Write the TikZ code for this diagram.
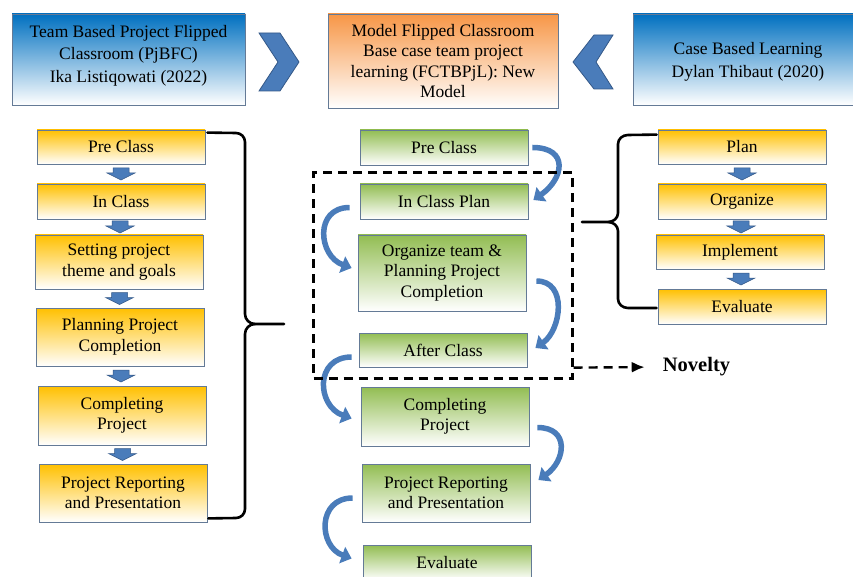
\documentclass[tikz,border=0pt]{standalone}
\usepackage{fontspec}
\setmainfont{Liberation Serif}
\usetikzlibrary{arrows.meta,calc,fit}

\definecolor{yelltop}{RGB}{255,192,0}
\definecolor{greentop}{RGB}{146,189,82}
\definecolor{orangetop}{RGB}{247,150,70}
\definecolor{bluetop}{RGB}{0,112,192}
\definecolor{edge}{RGB}{100,122,150}
\definecolor{arrblue}{RGB}{74,124,186}
\definecolor{arrline}{RGB}{52,88,135}

\newcommand{\stepdown}[2]{%
  \path ($(#1.south)!0.5!(#2.north)$) coordinate (mid);
  \filldraw[fill=arrblue, draw=arrline, line width=0.5pt]
    ([shift={(-8,6)}]mid) -- ++(16,0) -- ++(0,-5) -- ++(6,0)
    -- ++(-14,-7) -- ++(-14,7) -- ++(6,0) -- cycle;}

\begin{document}
\begin{tikzpicture}[
    x=1pt, y=1pt,
    every node/.style={align=center, font=\fontsize{17.5}{20.5}\selectfont},
    ybox/.style={draw=edge, line width=0.8pt, top color=yelltop, bottom color=white, minimum width=168pt, inner sep=2pt},
    gbox/.style={draw=edge, line width=0.8pt, top color=greentop, bottom color=white, minimum width=168pt, inner sep=2pt},
    headbox/.style={draw=edge, line width=0.8pt, bottom color=white, minimum width=230pt, inner sep=2pt},
    curv/.style={draw=arrblue, line width=5.5pt, -{Triangle[width=17pt,length=10pt]}},
    brace/.style={line width=2.6pt, line join=round, line cap=round},
    novline/.style={dash pattern=on 9pt off 6pt, line width=2.4pt}
]
\useasboundingbox (0,0) rectangle (853,-577);
\clip (0,0) rectangle (853,-577);

\node (h1) [headbox, top color=bluetop, minimum width=233pt, minimum height=91pt, text depth=12pt,
  font=\fontsize{17.5}{22.5}\selectfont] at (128.5,-59.5)
  {Team Based Project Flipped\\Classroom (PjBFC)\\Ika Listiqowati (2022)};
\node (hc) [headbox, top color=orangetop, minimum height=94pt] at (443,-61)
  {Model Flipped Classroom\\Base case team project\\learning (FCTBPjL): New\\Model};
\node (h2) [headbox, top color=bluetop, minimum height=91pt, text height=39pt,
  font=\fontsize{17.5}{22.5}\selectfont] at (748,-59.5)
  {Case Based Learning\\Dylan Thibaut (2020)};

\filldraw[fill=arrblue, draw=arrline, line width=0.8pt]
  (259,-33) -- (280,-33) -- (299,-62) -- (280,-91) -- (259,-91) -- (278,-62) -- cycle;
\filldraw[fill=arrblue, draw=arrline, line width=0.8pt]
  (613,-35) -- (594,-35) -- (573,-62) -- (594,-89) -- (613,-89) -- (596,-62) -- cycle;

\begin{scope}[shift={(121,0)}]
\node (l1) [ybox, minimum height=34pt] at (0,-147) {Pre Class};
\node (l2) [ybox, minimum height=35pt] at (0,-201.5) {In Class};
\node (l3) [ybox, minimum height=54pt] at (-2,-262) {Setting project\\theme and goals};
\node (l4) [ybox, minimum height=58pt] at (-1,-337) {Planning Project\\Completion};
\node (l5) [ybox, minimum height=59pt] at (1,-415.5) {Completing\\Project};
\node (l6) [ybox, minimum height=58pt] at (2,-493) {Project Reporting\\and Presentation};
\end{scope}

\begin{scope}[shift={(444,0)}]
\node (c1) [gbox, minimum height=35pt] at (0,-147.5) {Pre Class};
\node (c2) [gbox, minimum height=35pt] at (0,-201.5) {In Class Plan};
\node (c3) [gbox, minimum height=76pt] at (-2,-273) {Organize team \&\\Planning Project\\Completion};
\node (c4) [gbox, minimum height=34pt] at (-1,-350) {After Class};
\node (c5) [gbox, minimum height=59pt] at (1,-416.5) {Completing\\Project};
\node (c6) [gbox, minimum height=58pt] at (2,-493) {Project Reporting\\and Presentation};
\node (c7) [gbox, minimum height=35pt] at (3,-562.5) {Evaluate};
\end{scope}

\begin{scope}[shift={(742,0)}]
\node (r1) [ybox, minimum height=34pt] at (0,-147) {Plan};
\node (r2) [ybox, minimum height=35pt] at (0,-201.5) {Organize};
\node (r3) [ybox, minimum height=34pt] at (-2,-252) {Implement};
\node (r4) [ybox, minimum height=35pt] at (0,-306.5) {Evaluate};
\end{scope}

\stepdown{l1}{l2}
\stepdown{l2}{l3}
\stepdown{l3}{l4}
\stepdown{l4}{l5}
\stepdown{l5}{l6}
\stepdown{r1}{r2}
\stepdown{r2}{r3}
\stepdown{r3}{r4}

\draw[curv] ([xshift=4pt]c1.east) to[out=0,in=35,looseness=1.8] ([shift={(5pt,1.5pt)}]c2.east);
\draw[curv] ([shift={(-10pt,-6pt)}]c2.west) to[out=180,in=160,looseness=1.5] ([shift={(-6pt,5pt)}]c3.west);
\draw[curv] ([shift={(10pt,-8pt)}]c3.east) to[out=0,in=35,looseness=1.2] ([shift={(8pt,2pt)}]c4.east);
\draw[curv] ([shift={(-7pt,-7pt)}]c4.west) to[out=180,in=160,looseness=1.55] ([shift={(-9pt,-2pt)}]c5.west);
\draw[curv] ([shift={(8pt,-11pt)}]c5.east) to[out=0,in=35,looseness=1.6] ([shift={(8pt,13pt)}]c6.east);
\draw[curv] ([shift={(-9pt,-5pt)}]c6.west) to[out=180,in=160,looseness=1.5] ([shift={(-11pt,4pt)}]c7.west);

\draw[brace] ([shift={(2,-3)}]l1.north east) -- (236,-133) to[out=0,in=90] (245,-142)
  -- (245,-314) to[out=-90,in=180] (255,-324) -- (284,-324);
\draw[brace] (255,-324) to[out=180,in=90] (245,-334) -- (245,-509)
  to[out=-90,in=0] (236,-518) -- ([shift={(1,4)}]l6.south east);

\draw[brace] ([shift={(-1,-5)}]r1.north west) -- (628,-135) to[out=180,in=90] (618,-144)
  -- (618,-213) to[out=-90,in=0] (608,-222) -- (582,-222);
\draw[brace] (608,-222) to[out=0,in=90] (618,-231) -- (618,-299)
  to[out=-90,in=180] (628,-308) -- ([shift={(-1,-1.5)}]r4.west);

\node (novel) [draw, novline, fit=(c2)(c3)(c4), inner xsep=44pt, inner ysep=11pt] {};
\node (novelty) [font=\fontsize{20.5}{24}\selectfont\bfseries, inner sep=2pt] at (696.5,-367) {Novelty};
\draw[novline, -{Latex[length=13pt,width=11pt]}, shorten >=16pt] ([yshift=12pt]novel.south east) -- (novelty.west);

\end{tikzpicture}
\end{document}
